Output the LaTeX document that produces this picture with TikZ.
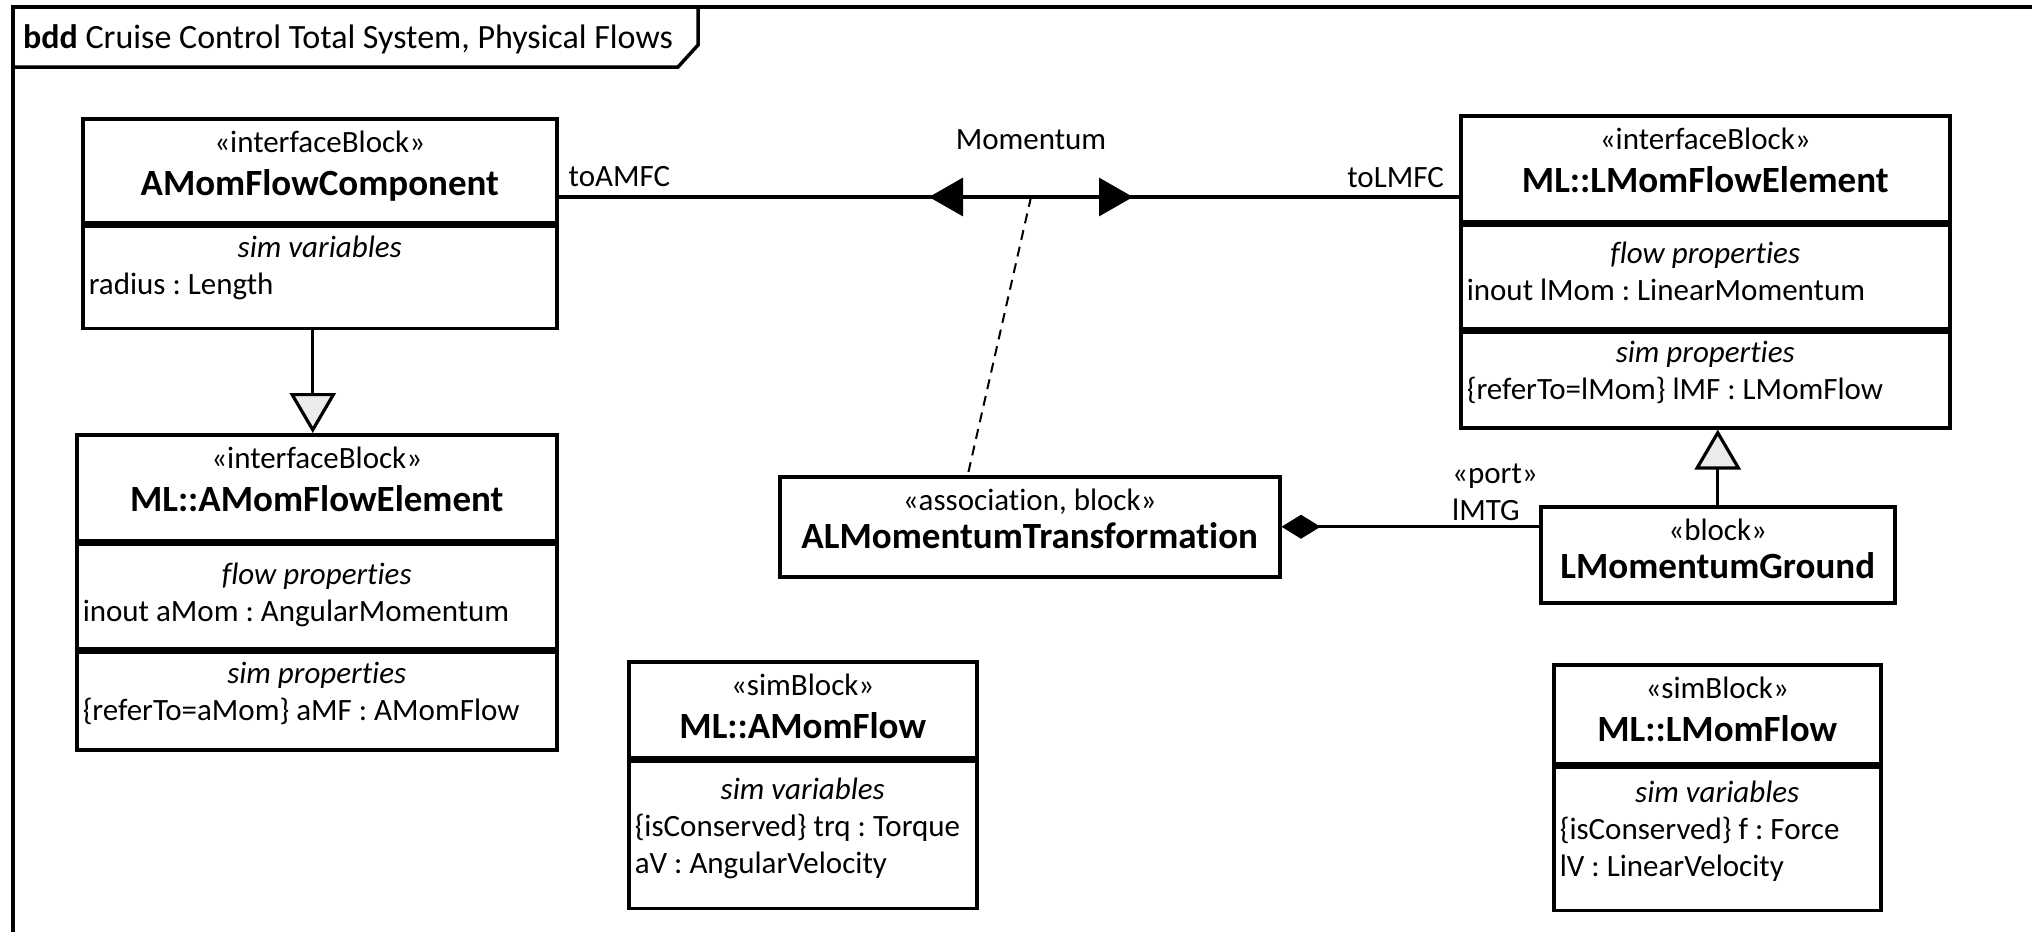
\documentclass[tikz,border=0pt]{standalone}
\usepackage{fontspec}
\setmainfont{Carlito}[Ligatures=NoCommon]
\usetikzlibrary{arrows.meta}
\frenchspacing

% block header: [name skip], height, text width, stereotype, name
\newcommand{\blkhead}[5][43pt]{%
  \parbox[c][#2][t]{#3}{\centering\fontsize{31}{37}\selectfont
    \rule{0pt}{34pt}«#4»\par
    {\fontsize{37}{#1}\selectfont\bfseries #5\par}}}
% block compartment: height, text width, first baseline, title, entries
\newcommand{\blkcomp}[5]{%
  \parbox[c][#1][t]{#2}{\fontsize{31}{37}\selectfont
    {\centering\rule{0pt}{#3}\itshape #4\par}
    \raggedright #5\par}}

\begin{document}
\begin{tikzpicture}[x=1pt, y=-1pt,
    blk/.style={draw, line width=3.5pt, inner xsep=6pt, inner ysep=0pt, anchor=north west},
    lbl/.style={inner sep=0pt, font=\fontsize{31}{37}\selectfont},
    conn/.style={line width=3.2pt}]
            \useasboundingbox (0,0) rectangle (2032,932);

            % Frame
            \draw[line width=3.5pt] (13,932) -- (13,7) -- (2032,7);
            \draw[line width=3.5pt] (698,7) -- (698,45) -- (678,67) -- (13,67);
            \node[lbl, font=\fontsize{34}{40}\selectfont, anchor=base west] (title) at (23,48) {\textbf{bdd} Cruise Control Total System, Physical Flows};

            % Nodes
            \node[blk] (amfc-head) at (81,117) {\blkhead{104pt}{462pt}{interfaceBlock}{AMomFlowComponent}};
            \node[blk] (amfc-sv) at (amfc-head.south west) {\blkcomp{102pt}{462pt}{31pt}{sim variables}{radius : Length}};

            \node[blk] (amfe-head) at (75,433) {\blkhead{106pt}{468pt}{interfaceBlock}{ML::AMomFlowElement}};
            \node[blk] (amfe-fp) at (amfe-head.south west) {\blkcomp{104pt}{468pt}{40pt}{flow properties}{inout aMom : AngularMomentum}};
            \node[blk] (amfe-sp) at (amfe-fp.south west) {\blkcomp{98pt}{468pt}{32pt}{sim properties}{\{referTo=aMom\} aMF : AMomFlow}};

            \node[blk] (lmfe-head) at (1459,114) {\blkhead{106pt}{477pt}{interfaceBlock}{ML::LMomFlowElement}};
            \node[blk] (lmfe-fp) at (lmfe-head.south west) {\blkcomp{103pt}{477pt}{38pt}{flow properties}{inout lMom : LinearMomentum}};
            \node[blk] (lmfe-sp) at (lmfe-fp.south west) {\blkcomp{96pt}{477pt}{31pt}{sim properties}{\{referTo=lMom\} lMF : LMomFlow}};

            \node[blk] (almt) at (778,475) {\blkhead[38pt]{100pt}{488pt}{association, block}{ALMomentumTransformation}};
            \node[blk] (lmg) at (1539,505) {\blkhead[38pt]{96pt}{342pt}{block}{LMomentumGround}};

            \node[blk] (amf-head) at (627,660) {\blkhead{96pt}{336pt}{simBlock}{ML::AMomFlow}};
            \node[blk] (amf-sv) at (amf-head.south west) {\blkcomp{147pt}{336pt}{38pt}{sim variables}{\{isConserved\} trq : Torque\\aV : AngularVelocity}};

            \node[blk] (lmf-head) at (1552,663) {\blkhead{99pt}{315pt}{simBlock}{ML::LMomFlow}};
            \node[blk] (lmf-sv) at (lmf-head.south west) {\blkcomp{143pt}{315pt}{35pt}{sim variables}{\{isConserved\} f : Force\\lV : LinearVelocity}};

            % Edges
            \coordinate (mom) at (1031,197);
            \draw[conn] (amfc-head.east |- mom) -- (lmfe-head.west |- mom);
            \draw[conn, {Triangle[length=34pt,width=38pt]}-{Triangle[length=34pt,width=38pt]}] ([xshift=-102pt]mom) -- ([xshift=102pt]mom);
            \node[lbl] (momlbl) at (1031,140) {Momentum};
            \node[lbl, anchor=base west] (toamfc) at ([xshift=10pt,yshift=11pt]amfc-head.east |- mom) {toAMFC};
            \node[lbl, anchor=base east] (tolmfc) at ([xshift=-15pt,yshift=10pt]lmfe-head.west |- mom) {toLMFC};
            \draw[line width=2pt, dash pattern=on 10pt off 7pt] (mom) -- ([xshift=-62pt]almt.north);

            \draw[conn, {Diamond[length=39pt,width=24pt]}-] (almt.east) -- (lmg.west |- almt.east);
            \node[lbl, align=left, anchor=south west] (lmtg) at ([xshift=-87pt,yshift=6pt]lmg.west |- almt.east) {«port»\\lMTG};

            \draw[conn, -{Triangle[length=40pt,width=46pt,fill=black!8]}] ([xshift=-7pt]amfc-sv.south) -- ([xshift=-7pt]amfc-sv.south |- amfe-head.north);
            \draw[conn, -{Triangle[length=40pt,width=46pt,fill=black!8]}] (lmg.north) -- (lmg.north |- lmfe-sp.south);
        \end{tikzpicture}
\end{document}
